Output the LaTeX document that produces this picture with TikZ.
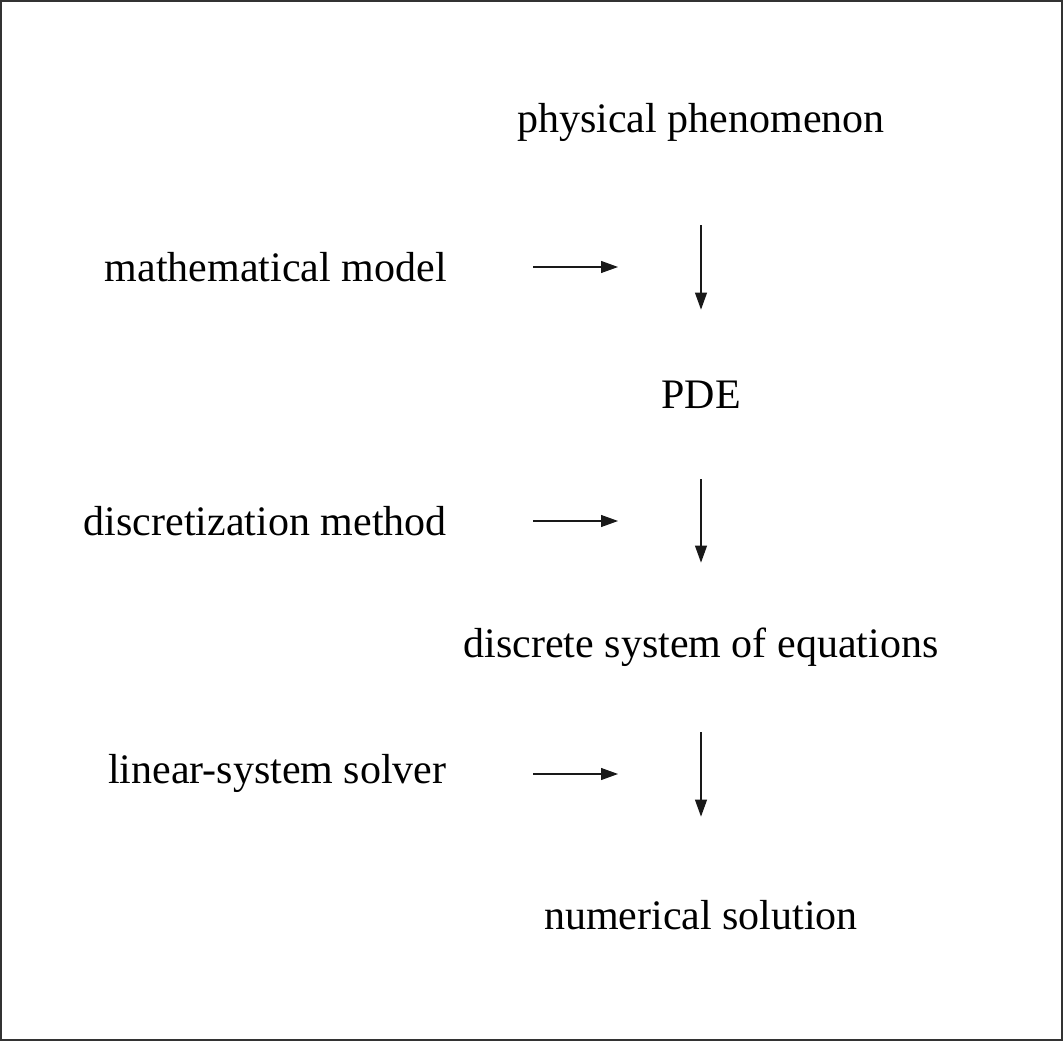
\documentclass[tikz,border=0pt]{standalone}
\usepackage{fontspec}
\setmainfont{Liberation Serif}
\usetikzlibrary{arrows.meta}
\begin{document}
\begin{tikzpicture}[x=0.5pt, y=-0.5pt, font=\fontsize{21}{25}\selectfont,
  stage/.style={inner sep=0pt, anchor=base, text height=15pt, text depth=5pt},
  tool/.style={inner sep=0pt, anchor=base east},
  flow/.style={-{Triangle[length=8.5pt, width=6pt]}, line width=0.55pt, black!90}]
  \useasboundingbox (0,0) rectangle (1064,1042);
  \draw[line width=1.1pt, black!80] (1,1) rectangle (1062,1040);
  \node[stage] (phys) at (701,133) {physical phenomenon};
  \node[stage] (pde) at (701,409) {PDE};
  \node[stage] (disc) at (701,657) {discrete system of equations};
  \node[stage] (num) at (701,929) {numerical solution};
  \node[tool] (mm) at (447,282) {mathematical model};
  \node[tool] (dm) at (447,535) {discretization method};
  \node[tool] (ls) at (447,783) {linear-system solver};
  \coordinate (mmtip) at (618,267);
  \coordinate (dmtip) at (618,521);
  \coordinate (lstip) at (618,774);
  \draw[flow, shorten <=41pt, shorten >=34.5pt] (phys) -- (pde);
  \draw[flow, shorten <=30pt, shorten >=32pt] (pde) -- (disc);
  \draw[flow, shorten <=32.5pt, shorten >=41pt] (disc) -- (num);
  \draw[flow, shorten <=43pt] (mm.east |- mmtip) -- (mmtip);
  \draw[flow, shorten <=43pt] (dm.east |- dmtip) -- (dmtip);
  \draw[flow, shorten <=43pt] (ls.east |- lstip) -- (lstip);
\end{tikzpicture}
\end{document}
